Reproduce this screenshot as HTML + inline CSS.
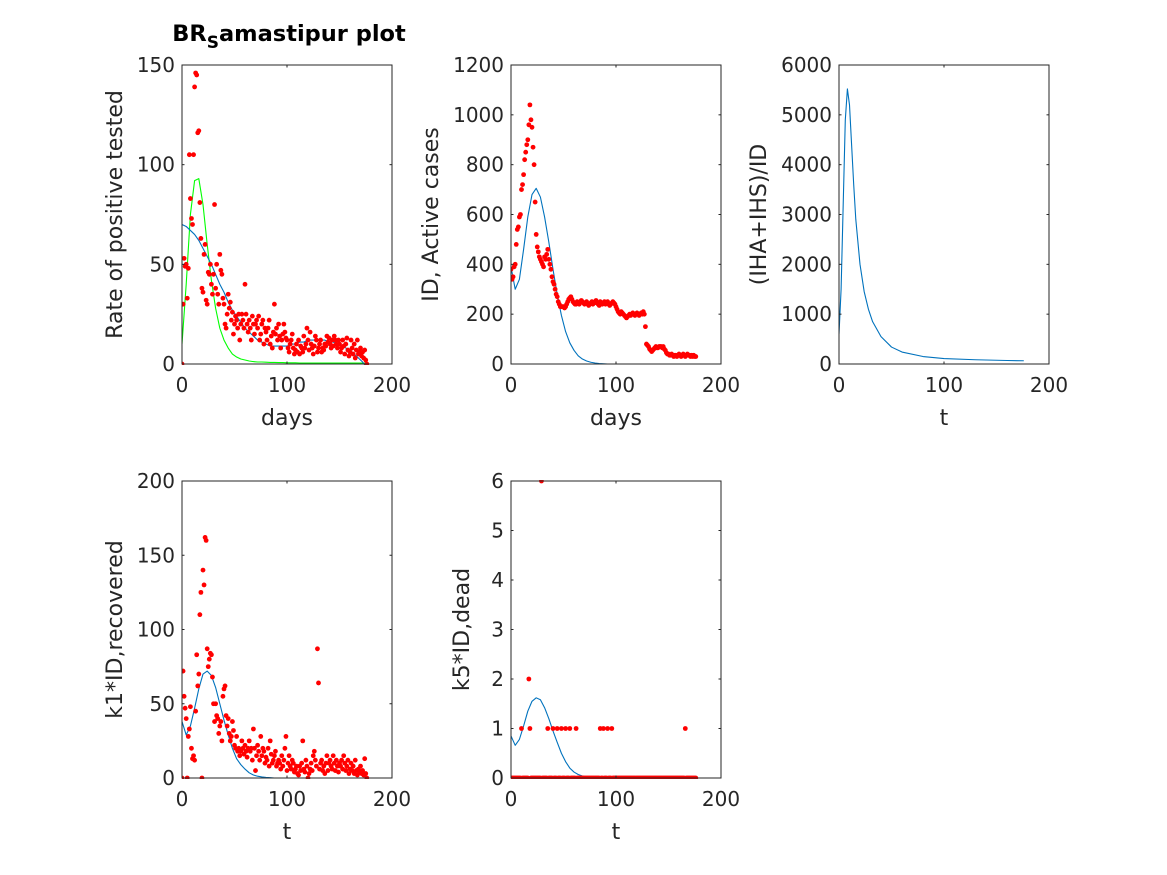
<!DOCTYPE html>
<html><head><meta charset="utf-8"><style>
html,body{margin:0;padding:0;background:#fff}
svg{display:block;font-family:"DejaVu Sans","Liberation Sans",sans-serif}
</style></head><body>
<svg id="fig" width="1167" height="875" viewBox="0 0 1167 875" xmlns="http://www.w3.org/2000/svg">
<rect width="1167" height="875" fill="#fff"/>
<text x="289" y="41" text-anchor="middle" font-size="22.5" font-weight="bold" fill="#000">BR<tspan font-size="17" dy="7">S</tspan><tspan dy="-7">amastipur plot</tspan></text>
</svg>
<script>
const ratePts=[0,30,53,49,50,33,48,105,83,73,70,105,139,146,145,116,117,81,63,38,36,55,60,32,30,46,45,50,40,35,45,80,38,50,35,30,55,47,45,33,30,20,18,25,35,28,31,22,26,15,20,24,22,18,25,12,20,25,22,18,40,25,20,16,22,18,12,24,20,15,20,22,18,24,12,15,20,22,10,18,16,12,18,22,10,14,8,16,30,15,18,12,20,14,8,12,15,20,16,13,12,8,6,10,12,15,8,5,7,10,6,12,5,9,8,6,14,8,10,18,12,7,16,10,8,5,9,14,12,6,8,10,12,6,8,7,10,9,14,11,13,10,8,12,9,14,12,10,8,12,10,6,8,12,9,5,10,13,7,4,6,12,8,5,10,3,7,12,5,6,8,4,6,3,7,2,0];
const activePts=[380,340,350,390,400,480,540,550,590,600,700,720,760,820,850,880,900,960,1040,980,950,870,800,650,520,470,450,430,420,410,400,390,430,420,440,460,420,400,380,350,330,320,300,280,270,250,240,230,230,230,230,225,230,240,250,260,265,270,260,250,245,240,240,250,245,240,250,255,250,245,240,245,250,240,235,240,245,250,240,245,250,255,245,240,235,250,245,240,245,250,240,245,250,240,235,240,245,250,245,240,230,220,210,205,200,210,205,200,195,190,185,190,195,200,195,200,205,200,195,200,205,200,195,200,205,200,210,200,150,80,75,70,60,55,50,55,60,65,70,65,65,70,70,70,65,70,60,55,45,40,40,35,35,40,35,30,35,35,30,35,40,35,30,35,40,35,30,35,40,35,35,30,35,30,35,30,30];
const recovPts=[0,72,55,47,40,0,28,33,48,20,13,15,12,45,83,62,70,110,125,0,140,130,162,160,87,75,80,84,83,68,50,38,50,42,40,30,35,38,25,55,60,62,42,35,40,30,25,28,38,32,22,20,28,18,20,15,18,25,20,16,22,18,14,20,25,18,20,12,33,20,5,15,22,18,12,28,15,20,18,10,14,12,20,8,25,16,10,12,15,18,8,10,12,10,6,15,8,12,20,28,5,10,15,8,6,12,10,4,6,8,3,2,8,5,10,25,6,4,12,8,0,3,6,10,5,15,18,12,8,87,64,6,10,12,5,8,3,10,15,5,10,12,8,6,15,10,5,12,8,4,10,8,12,6,15,10,5,8,12,3,6,10,5,8,3,12,5,2,6,4,8,3,5,2,13,3,0];
const deadPts=[0,0,0,0,0,0,0,0,0,0,1,0,0,0,0,0,0,2,1,0,0,0,0,0,0,0,0,0,0,6,0,0,0,0,0,1,0,0,0,0,1,0,0,0,1,0,0,0,1,0,0,0,1,0,0,0,1,0,0,0,0,0,1,0,0,0,0,0,0,0,0,0,0,0,0,0,0,0,0,0,0,0,0,0,0,1,0,0,1,0,0,0,1,0,0,0,1,0,0,0,0,0,0,0,0,0,0,0,0,0,0,0,0,0,0,0,0,0,0,0,0,0,0,0,0,0,0,0,0,0,0,0,0,0,0,0,0,0,0,0,0,0,0,0,0,0,0,0,0,0,0,0,0,0,0,0,0,0,0,0,0,0,0,0,0,0,1,0,0,0,0,0,0,0,0,0,0];
const rateFit=[70,69,67,65,62,58,54,50,45,40,36,31,27,24,21,18,16,14,12,11,10,9,9,9,9,9,10,10,11,11,12,12,12,12,12,11,11,10,9,8,7,5,3,1,-2];
const rateGreen=[10,40,75,92,93,80,60,42,28,18,12,8,5,3.5,2.5,2,1.5,1.2,1,1,0.9,0.8,0.8,0.7,0.7,0.6,0.6,0.6,0.5,0.5,0.5,0.5,0.5,0.5,0.5,0.5,0.5,0.5,0.5,0.5,0.5,0.5,0.5,0.5,0.5];
const activeFit=[390,300,340,460,590,680,705,670,590,490,380,280,195,130,85,55,33,20,12,7,4,2,1,0,0,0,0,0,0,0,0,0,0,0,0,0,0,0,0,0,0,0,0,0,0];
const recovFit=[38,29,35,47,60,70,72,69,61,50,39,29,20,13,9,6,3.5,2,1.2,0.7,0.4,0.2,0,0,0,0,0,0,0,0,0,0,0,0,0,0,0,0,0,0,0,0,0,0,0];
const deadFit=[0.85,0.66,0.78,1.05,1.35,1.55,1.62,1.58,1.42,1.2,0.95,0.72,0.5,0.33,0.2,0.12,0.07,0.04,0.02,0.01,0,0,0,0,0,0,0,0,0,0,0,0,0,0,0,0,0,0,0,0,0,0,0,0,0];
const ratioDays=[0,2,4,6,8,10,12,14,16,20,24,28,32,40,50,60,80,100,130,160,176];
const ratioVals=[600,1500,3200,4900,5520,5200,4400,3600,2900,2000,1450,1100,850,550,340,240,150,110,85,70,65];
const xTicks=[0,100,200];
const rateTicks=[0,50,100,150];
const activeTicks=[0,200,400,600,800,1000,1200];
const ratioTicks=[0,1000,2000,3000,4000,5000,6000];
const recovTicks=[0,50,100,150,200];
const deadTicks=[0,1,2,3,4,5,6];

const NS="http://www.w3.org/2000/svg";
const svg=document.getElementById('fig');
function mk(tag,attrs,parent){const e=document.createElementNS(NS,tag);for(const k in attrs)e.setAttribute(k,attrs[k]);(parent||svg).appendChild(e);return e;}
const curveDays=[];for(let i=0;i<45;i++)curveDays.push(i*4);
const ptDays=[];for(let i=0;i<177;i++)ptDays.push(i);

function panel(name,L,T,R,B,ymax,yT,xl,yl,yLabX){
  const g=mk('g',{});
  
  
  const sx=v=>L+(v/200)*(R-L), sy=v=>B-(v/ymax)*(B-T);
  const bg=mk('rect',{x:L,y:T,width:R-L,height:B-T,fill:'#fff',stroke:'none'},g);
  
  
  const clipId=name+'-clip';
  const cp=mk('clipPath',{id:clipId},g);mk('rect',{x:L,y:T-1,width:R-L,height:B-T+2},cp);
  const marks=mk('g',{'clip-path':'url(#'+clipId+')'},g);
  const ax=mk('g',{},g);
  
  
  xTicks.forEach(t=>{const x=sx(t);
    mk('line',{x1:x,y1:B,x2:x,y2:B-2.5,stroke:'#262626','stroke-width':1},ax);
    mk('line',{x1:x,y1:T,x2:x,y2:T+2.5,stroke:'#262626','stroke-width':1},ax);
    const tx=mk('text',{x:x,y:B+28,'text-anchor':'middle','font-size':20,fill:'#262626'},ax);tx.textContent=t;
    
    });
  yT.forEach(t=>{const y=sy(t);
    mk('line',{x1:L,y1:y,x2:L+2.5,y2:y,stroke:'#262626','stroke-width':1},ax);
    mk('line',{x1:R,y1:y,x2:R-2.5,y2:y,stroke:'#262626','stroke-width':1},ax);
    const tx=mk('text',{x:L-7,y:y+7,'text-anchor':'end','font-size':20,fill:'#262626'},ax);tx.textContent=t;
    
    });
  mk('rect',{x:L,y:T,width:R-L,height:B-T,fill:'none',stroke:'#262626','stroke-width':1},ax);
  const xt=mk('text',{x:(L+R)/2,y:B+61,'text-anchor':'middle','font-size':22,fill:'#262626'},g);xt.textContent=xl;
  
  
  const cy=(T+B)/2;
  const yt=mk('text',{x:yLabX,y:cy,'text-anchor':'middle','font-size':22,fill:'#262626',transform:'rotate(-90 '+yLabX+' '+cy+')'},g);yt.textContent=yl;
  
  
  return {marks,sx,sy,g};
}
function line(p,xs,ys,color,nm){
  const d=xs.map((x,i)=>p.sx(x).toFixed(2)+','+p.sy(ys[i]).toFixed(2)).join(' ');
  const pl=mk('polyline',{points:d,fill:'none',stroke:color,'stroke-width':1.1,'stroke-linejoin':'round'},p.marks);
  
  
}
function dots(p,xs,ys,nm){
  const g=mk('g',{fill:'#ff0000'},p.marks);
  
  
  ys.forEach((v,i)=>{mk('circle',{cx:p.sx(xs[i]),cy:p.sy(v),r:2.4},g);});
}
const blue='#0072bd';
let p=panel('rate-panel',182,65,392,364,150,rateTicks,'days','Rate of positive tested',122);
line(p,curveDays,rateGreen,'#00ff00','green-model-line');
line(p,curveDays,rateFit,blue,'blue-fit-line');
dots(p,ptDays,ratePts,'rate-data-points');
p=panel('active-panel',511,65,721,364,1200,activeTicks,'days','ID, Active cases',438);
line(p,curveDays,activeFit,blue,'active-fit-line');
dots(p,ptDays,activePts,'active-data-points');
p=panel('ratio-panel',839,65,1049,364,6000,ratioTicks,'t','(IHA+IHS)/ID',766);
line(p,ratioDays,ratioVals,blue,'ratio-line');
p=panel('recovered-panel',182,481,392,778,200,recovTicks,'t','k1*ID,recovered',122);
line(p,curveDays,recovFit,blue,'recovered-fit-line');
dots(p,ptDays,recovPts,'recovered-data-points');
p=panel('dead-panel',511,481,721,778,6,deadTicks,'t','k5*ID,dead',469);
line(p,curveDays,deadFit,blue,'dead-fit-line');
dots(p,ptDays,deadPts,'dead-data-points');
</script>
</body></html>
